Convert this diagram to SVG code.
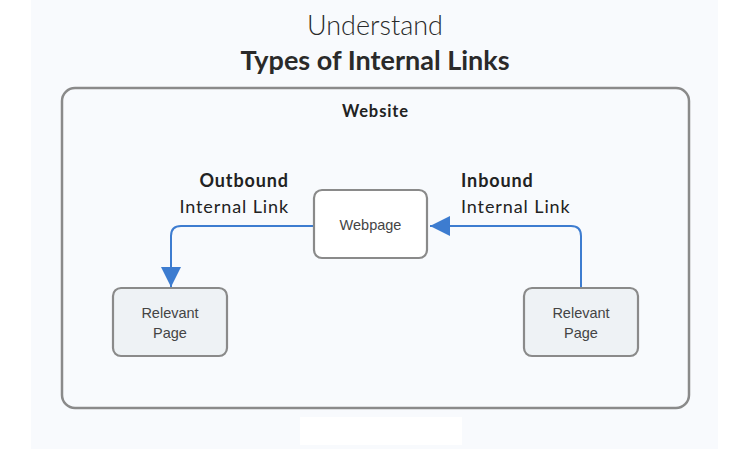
<svg xmlns="http://www.w3.org/2000/svg" width="750" height="450" viewBox="0 0 750 450">
  <defs>
    <style>
      .title { font-family: Lato, "Liberation Sans", sans-serif; fill: #2a2a2a; text-anchor: middle; }
      .lbl { font-family: Lato, "Liberation Sans", sans-serif; fill: #222; font-size: 18px; letter-spacing: 0.9px; }
      .node rect { stroke: #8a8a8a; stroke-width: 2.2; }
      .node text { font-family: "Liberation Sans", Arial, sans-serif; font-size: 14.5px; fill: #444; text-anchor: middle; }
      .conn { fill: none; stroke: #3d7cd0; stroke-width: 2; }
    </style>
    <marker id="arrow" viewBox="0 0 20 20" refX="20" refY="10" markerWidth="20" markerHeight="20" markerUnits="userSpaceOnUse" orient="auto">
      <path d="M0,0 L20,10 L0,20 Z" fill="#3d7cd0"/>
    </marker>
  </defs>
  <rect x="0" y="0" width="750" height="450" fill="#ffffff"/>
  <rect x="31" y="0" width="687" height="449" fill="#f8fafd"/>
  <rect x="300" y="417" width="162" height="28" fill="#ffffff"/>

  <text class="title" x="375" y="35" font-size="27" font-weight="300">Understand</text>
  <text class="title" x="375" y="70" font-size="27" font-weight="bold">Types of Internal Links</text>

  <g id="website">
    <rect x="62" y="88" width="627" height="320" rx="13" fill="none" stroke="#8a8a8a" stroke-width="2.5"/>
    <text x="375.5" y="117" font-family="Lato, 'Liberation Sans', sans-serif" font-size="16.5" font-weight="bold" fill="#222" text-anchor="middle" letter-spacing="0.9">Website</text>
  </g>

  <g id="connectors">
    <path class="conn" d="M314,226 H181 Q171,226 171,236 V287" marker-end="url(#arrow)"/>
    <path class="conn" d="M581,288 V236 Q581,226 571,226 H430" marker-end="url(#arrow)"/>
    <text class="lbl" x="289" y="187" font-weight="bold" text-anchor="end">Outbound</text>
    <text class="lbl" x="289" y="213" text-anchor="end">Internal Link</text>
    <text class="lbl" x="461" y="187" font-weight="bold">Inbound</text>
    <text class="lbl" x="461" y="213">Internal Link</text>
  </g>

  <g id="webpage" class="node">
    <rect x="314" y="190" width="113" height="68" rx="8" fill="#ffffff"/>
    <text x="370.5" y="230">Webpage</text>
  </g>
  <g id="relevant-left" class="node">
    <rect x="113" y="288" width="114" height="68" rx="8" fill="#eef2f5"/>
    <text x="170" y="318">Relevant</text>
    <text x="170" y="338">Page</text>
  </g>
  <g id="relevant-right" class="node">
    <rect x="524" y="288" width="114" height="68" rx="8" fill="#eef2f5"/>
    <text x="581" y="318">Relevant</text>
    <text x="581" y="338">Page</text>
  </g>
</svg>
